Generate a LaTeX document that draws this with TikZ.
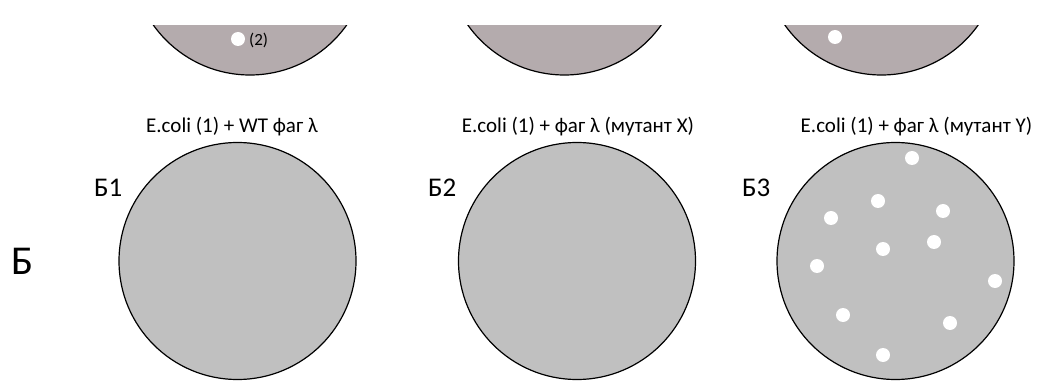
\documentclass[tikz,border=0pt]{standalone}
\usepackage{fontspec}
\setmainfont{Carlito}
\definecolor{topgray}{RGB}{180,171,173}
\definecolor{plategray}{RGB}{192,192,192}
\begin{document}
\begin{tikzpicture}[x=1pt,y=-1pt,
  plate/.style={circle,draw=black,line width=1.2pt,fill=plategray,minimum size=237pt,inner sep=0pt},
  topplate/.style={circle,draw=black,line width=1.2pt,fill=topgray,minimum size=237pt,inner sep=0pt},
  plaque/.style={circle,fill=white,minimum size=14pt,inner sep=0pt},
  title/.style={anchor=base,inner sep=0pt,font=\fontsize{21}{25}\selectfont},
  lab/.style={anchor=base west,inner sep=0pt,font=\fontsize{27}{32}\selectfont}]
\useasboundingbox (0,0) rectangle (1055,382);
\begin{scope}
  \clip (0,26) rectangle (1055,382);
  \node[topplate] (a1) at (250,-43.5) {};
  \node[topplate] (a2) at (564.5,-43.5) {};
  \node[topplate] (a3) at (881.5,-43.5) {};
\end{scope}
\node[plaque] (a1p) at (238,39) {};
\node[anchor=west,inner sep=0pt,font=\fontsize{17}{20}\selectfont] (a1t) at (249,40) {(2)};
\node[plaque] (a3p) at (835,37) {};

\node[title] (t1) at (232,133) {E.coli (1) + WT фаг λ};
\node[title] (t2) at (578,133) {E.coli (1) + фаг λ (мутант X)};
\node[title] (t3) at (916.5,133) {E.coli (1) + фаг λ (мутант Y)};

\node[plate] (b1) at (237.5,261) {};
\node[plate] (b2) at (577,261) {};
\node[plate] (b3) at (895.5,261) {};

\node[lab] (l1) at (94,197) {Б1};
\node[lab] (l2) at (428,197) {Б2};
\node[lab] (l3) at (742,197) {Б3};
\node[anchor=base west,inner sep=0pt,font=\fontsize{41}{48}\selectfont] (B) at (11,274) {Б};

\foreach \x/\y [count=\i] in {912/158,878/201,831/218,943/211,883/249,934/242,817/266,995/281,843/315,950/323,883/355}
  \node[plaque] (p\i) at (\x,\y) {};
\end{tikzpicture}
\end{document}
